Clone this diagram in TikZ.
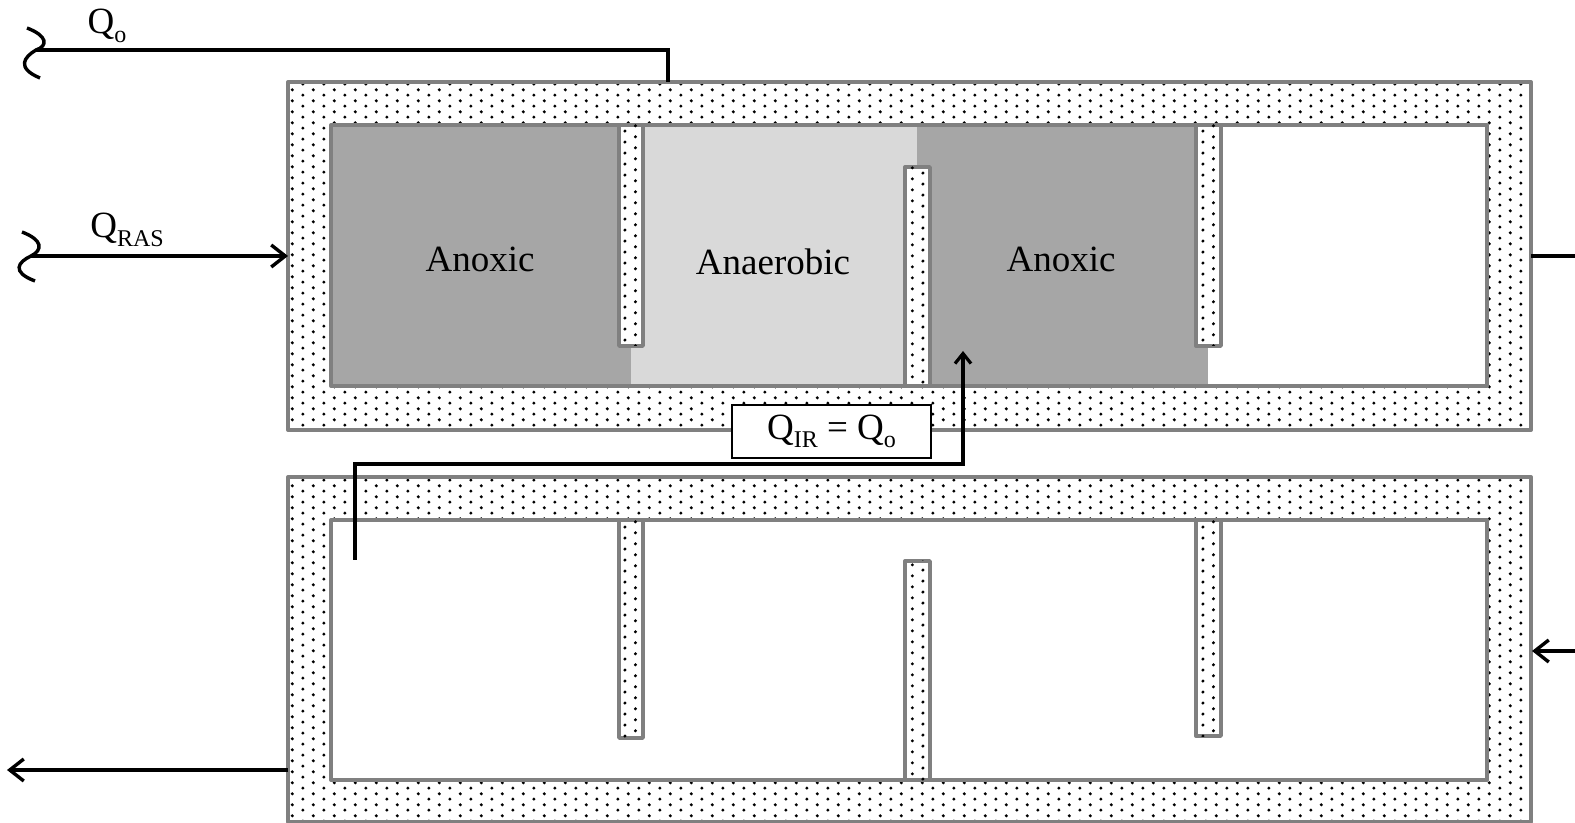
\documentclass[tikz,border=0pt]{standalone}
\usepackage{fontspec}
\setmainfont{Liberation Serif}
\usetikzlibrary{patterns,arrows.meta}
\definecolor{wallgray}{HTML}{808080}
\definecolor{anoxicgray}{HTML}{A6A6A6}
\definecolor{anaerogray}{HTML}{D9D9D9}
\pgfdeclarepatternformonly{tankdots}{\pgfqpoint{0pt}{0pt}}{\pgfqpoint{10.7pt}{5.35pt}}{\pgfqpoint{10.7pt}{5.35pt}}{%
  \pgfpathcircle{\pgfqpoint{2pt}{1pt}}{0.85pt}%
  \pgfpathcircle{\pgfqpoint{7.35pt}{3.675pt}}{0.85pt}%
  \pgfusepath{fill}}
\newcommand{\lowsub}[1]{\raisebox{-0.5ex}{\fontsize{12}{12}\selectfont #1}}

\begin{document}
\begin{tikzpicture}[x=0.5pt,y=-0.5pt,
  wall/.style={draw=wallgray,line width=2pt,line join=round,pattern=tankdots},
  basin/.style={draw=wallgray,line width=2pt,line join=round},
  baffle/.style={draw=wallgray,line width=1.7pt,line join=round,fill=white,postaction={pattern=tankdots}},
  flow/.style={line width=1.7pt},
  flowarrow/.style={flow,-{Straight Barb[length=7pt,width=11pt]}},
  lbl/.style={font=\fontsize{18.5}{20}\selectfont,inner sep=0pt}]
  \useasboundingbox (0,0) rectangle (1575,823);
  \begin{scope}
   \draw[wall] (288,82) rectangle (1531,430);
   \fill[white] (331,125) rectangle (1487,386);
   \fill[anoxicgray] (331,125) rectangle (631,386);
   \fill[anaerogray] (631,125) rectangle (917,386);
   \fill[anoxicgray] (917,125) rectangle (1208,386);
   \draw[basin] (331,125) rectangle (1487,386);
   \draw[baffle] (619,125) rectangle (643,346);
   \draw[baffle] (905,167) rectangle (930,386);
   \draw[baffle] (1196,125) rectangle (1221,346);
   \node[lbl] (anoxicA) at (480,259) {Anoxic};
   \node[lbl] (anaerobic) at (773,262) {Anaerobic};
   \node[lbl] (anoxicB) at (1061,259) {Anoxic};
   \coordinate (topWest) at (288,256);
   \coordinate (topEast) at (1531,256);
   \coordinate (topOut) at (668,82);
  \end{scope}
  \begin{scope}
   \draw[wall] (288,477) rectangle (1531,822);
   \draw[basin,fill=white] (331,520) rectangle (1487,780);
   \draw[baffle] (619,520) rectangle (643,738);
   \draw[baffle] (905,561) rectangle (930,780);
   \draw[baffle] (1196,520) rectangle (1221,736);
   \coordinate (botWest) at (288,770);
   \coordinate (botEast) at (1532,651);
  \end{scope}
  \coordinate (qoEnd) at (36,50);
  \coordinate (rasStart) at (31,256);
  \coordinate (effluent) at (1575,256);
  \coordinate (influent) at (1575,651);
  \coordinate (wasOut) at (7,770);
  \coordinate (irStart) at (355,560);
  \coordinate (irCorner) at (355,464);
  \coordinate (irTip) at (963,351);
  \draw[line width=1.6pt] (topOut) |- (qoEnd);
  \draw[flow] (27,28) .. controls (48,36) and (48,46) .. (qoEnd) .. controls (24,57) and (16,68) .. (40,78);
  \draw[flowarrow] (rasStart) -- (topWest);
  \draw[flow] (22,232) .. controls (43,240) and (43,250) .. (rasStart) .. controls (18,262) and (11,272) .. (35,281);
  \draw[flow] (topEast) -- (effluent);
  \draw[flowarrow] (influent) -- (botEast);
  \draw[flowarrow] (botWest) -- (wasOut);
  \draw[line width=1.6pt,-{Straight Barb[length=5pt,width=8pt]}] (irStart) -- (irCorner) -| (irTip);
  \node[lbl] (qoLabel) at (107,26) {Q\lowsub{o}};
  \node[lbl] (rasLabel) at (127,230) {Q\lowsub{RAS}};
  \node[lbl,draw,fill=white,line width=1pt,minimum width=99.5pt,minimum height=26.5pt] (irLabel) at (831.5,431.5) {Q\lowsub{IR} = Q\lowsub{o}};
\end{tikzpicture}
\end{document}
